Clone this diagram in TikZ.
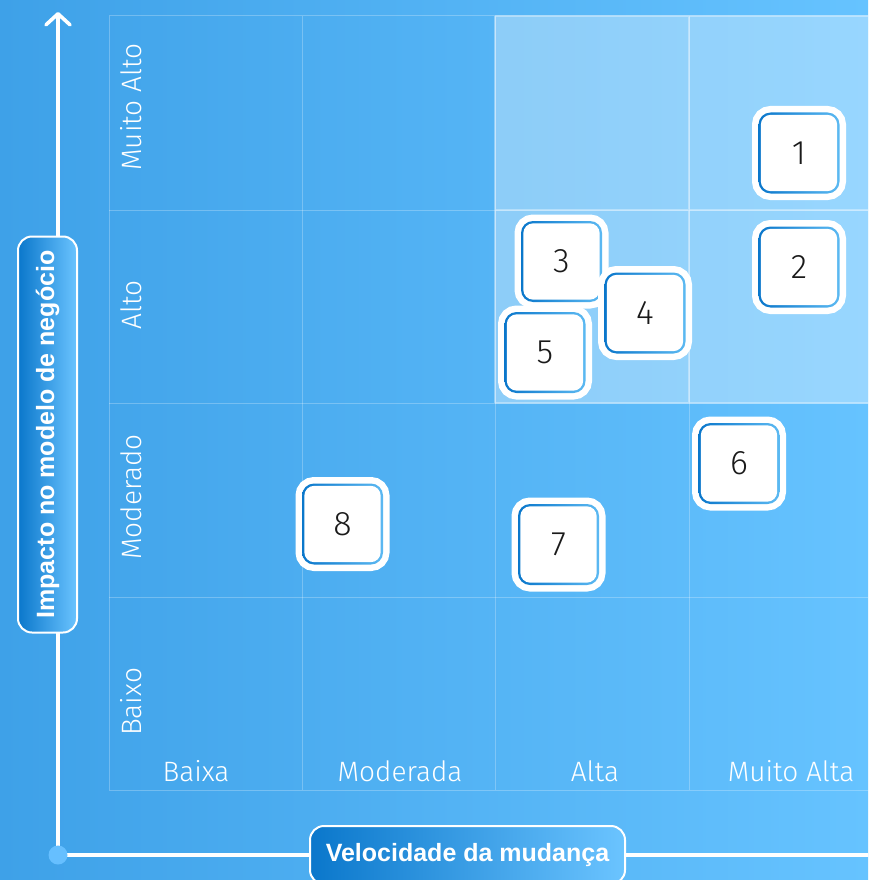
\documentclass[tikz,border=0pt]{standalone}
\usepackage{fontspec}
\setmainfont{Liberation Sans}
\newfontfamily\lightfont{Fira Sans Light}
\usetikzlibrary{arrows.meta}
\definecolor{bgL}{HTML}{3EA1E8}
\definecolor{bgR}{HTML}{66C3FF}
\definecolor{ringD}{HTML}{0A77CB}
\definecolor{ringL}{HTML}{5CB9F2}
\definecolor{lblD}{HTML}{0A77CB}
\definecolor{lblL}{HTML}{6BC4FF}
\definecolor{dotc}{HTML}{66BFFF}
\definecolor{numc}{HTML}{1A1A1A}
\begin{document}
\begin{tikzpicture}[x=1pt,y=-1pt,
  gridline/.style={draw=white, draw opacity=0.25, line width=1pt},
  hiline/.style={draw=white, draw opacity=0.35, line width=1.2pt},
  axisline/.style={draw=white, line width=3.6pt},
  rowlbl/.style={text=white, font=\lightfont\fontsize{28}{28}\selectfont, rotate=90, inner sep=0pt},
  collbl/.style={text=white, font=\lightfont\fontsize{28}{28}\selectfont, inner sep=0pt},
  numbox/.style={rectangle, rounded corners=12pt, minimum width=81pt, minimum height=81pt,
    inner sep=0pt, preaction={draw=white, line width=13pt},
    left color=ringD, right color=ringL,
    path picture={\fill[white, rounded corners=10pt]
      ([shift={(2.3pt,-2.3pt)}]path picture bounding box.north west) rectangle
      ([shift={(-2.3pt,2.3pt)}]path picture bounding box.south east);},
    text=numc, font=\lightfont\fontsize{34}{34}\selectfont},
  axistitle/.style={rectangle, rounded corners=14pt, draw=white, line width=2pt,
    inner sep=0pt, text=white, font=\bfseries\fontsize{25}{25}\selectfont}
]
\useasboundingbox (0,0) rectangle (868,880);
\clip (0,0) rectangle (868,880);
% background
\shade[left color=bgL, right color=bgR] (0,0) rectangle (868,880);
% highlighted region
\fill[white, fill opacity=0.33] (495,16) rectangle (870,403);
% grid
\foreach \x in {109,302,495,689} \draw[gridline] (\x,16) -- (\x,790);
\foreach \y in {16,210,403,597,790} \draw[gridline] (109,\y) -- (870,\y);
\draw[hiline] (495,16) -- (495,403) (689,16) -- (689,403) (495,16) -- (870,16)
  (495,210) -- (870,210) (495,403) -- (870,403);
% row labels
\node[rowlbl] (r4) at (131,107) {Muito Alto};
\node[rowlbl] (r3) at (131,305) {Alto};
\node[rowlbl] (r2) at (131,497) {Moderado};
\node[rowlbl] (r1) at (131,702) {Baixo};
% column labels
\node[collbl] (c1) at (196,771) {Baixa};
\node[collbl] (c2) at (400,771) {Moderada};
\node[collbl] (c3) at (595,771) {Alta};
\node[collbl] (c4) at (791,771) {Muito Alta};
% axes
\coordinate (o) at (58,855);
\coordinate (ytop) at (58,12);
\coordinate (xend) at (875,855);
\draw[axisline, line cap=round, -{Straight Barb[length=11pt,width=24pt,round]}] (o) -- (ytop);
\draw[axisline] (o) -- (xend);
\node[circle, fill=dotc, minimum size=19pt, inner sep=0pt] (dot) at (o) {};
\node[axistitle, rotate=90, minimum width=396pt, minimum height=59pt,
  left color=lblD, right color=lblL] (ytitle) at (47.5,434.5) {Impacto no modelo de negócio};
\node[axistitle, minimum width=315pt, minimum height=58pt,
  left color=lblD, right color=lblL] (xtitle) at (467.5,855) {Velocidade da mudança};
% numbered items
\node[numbox] (n1) at (799,153) {1};
\node[numbox] (n2) at (799,267) {2};
\node[numbox] (n3) at (561.5,261.5) {3};
\node[numbox] (n5) at (545,352.5) {5};
\node[numbox] (n4) at (645,313) {4};
\node[numbox] (n6) at (739,463.5) {6};
\node[numbox] (n7) at (558.5,544.5) {7};
\node[numbox] (n8) at (342.5,524) {8};
\end{tikzpicture}
\end{document}
